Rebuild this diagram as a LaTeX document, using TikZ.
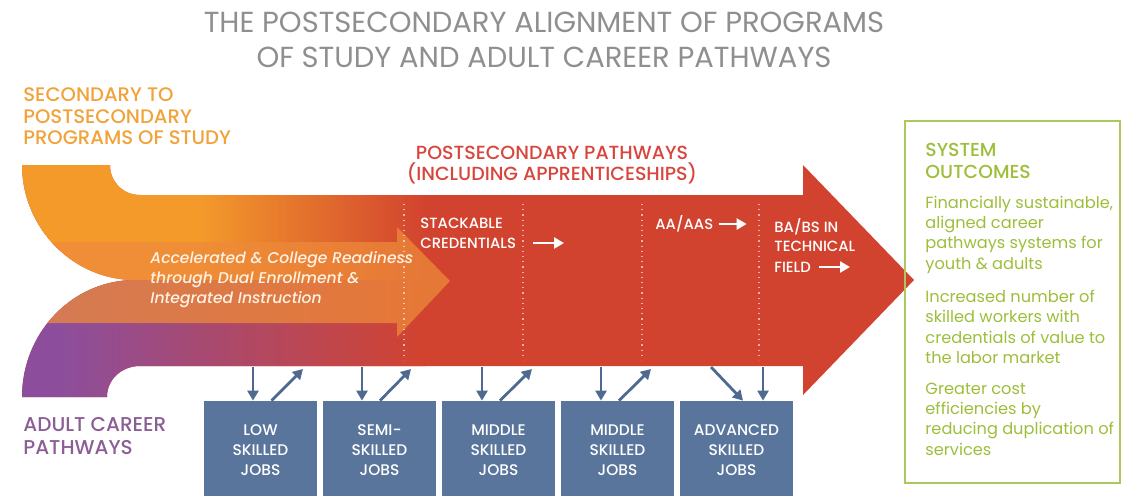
\documentclass[tikz,border=0pt]{standalone}
\usepackage{fontspec}
\setmainfont{Poppins}[BoldFont={Poppins Medium},BoldItalicFont={Poppins Medium Italic}]
\usepackage{tikz}
\usetikzlibrary{arrows.meta}
\tikzset{baseline=(current bounding box.center), >/.tip={Triangle[length=5pt,width=5.5pt]}}

\definecolor{titlegray}{HTML}{8F8F8F}
\definecolor{bandorange}{HTML}{F39A2B}
\definecolor{bandred}{HTML}{D2432F}
\definecolor{bandpurple}{HTML}{8C4E9C}
\definecolor{accelorange}{HTML}{EE8A3A}
\definecolor{laborange}{HTML}{F2A23A}
\definecolor{labred}{HTML}{D8453C}
\definecolor{labpurple}{HTML}{8B5E96}
\definecolor{jobblue}{HTML}{59759B}
\definecolor{linkblue}{HTML}{4E6A91}
\definecolor{outgreen}{HTML}{9DBE3A}
\definecolor{outline}{HTML}{AAC85E}

\begin{document}
\begin{tikzpicture}[x=0.5pt,y=-0.5pt,
  heading/.style={text=titlegray, font=\fontsize{14.5}{17.2}\selectfont, align=center},
  sidelab/.style={anchor=west, inner sep=0pt, align=left, font=\bfseries\fontsize{9.8}{10.75}\selectfont},
  bandtext/.style={anchor=west, inner sep=0pt, align=left, text=white, font=\bfseries\fontsize{7.4}{10}\selectfont},
  jobbox/.style={fill=jobblue, text=white, minimum width=56.5pt, minimum height=49pt, inner sep=0pt, align=center, font=\bfseries\fontsize{7.7}{10}\selectfont},
  link/.style={->, draw=linkblue, line width=1.4pt},
  wlink/.style={->, draw=white, line width=1.2pt},
  divider/.style={draw=white, draw opacity=0.6, line width=0.6pt, dotted},
  outtext/.style={anchor=west, inner sep=0pt, align=left, text=outgreen, font=\fontsize{8.1}{10.15}\selectfont}]
\useasboundingbox (0,0) rectangle (1122,495);

% the two streams joining into the big arrow
\begin{scope}
\clip (22,397) .. controls (22,332) and (73,280) .. (135,280)
      .. controls (73,280) and (22,228) .. (22,165) -- (110,165)
      .. controls (110,182) and (123,195) .. (140,195) -- (803,195) -- (803,165)
      -- (914,280) -- (803,395) -- (803,366) -- (140,366)
      .. controls (122,366) and (107,379) .. (107,397) -- cycle;
\fill[bandred] (0,150) rectangle (920,400);
\fill[bandorange] (0,150) rectangle (200,280);
\shade[left color=bandorange, right color=bandred] (200,150) rectangle (425,280);
\fill[bandpurple] (0,280) rectangle (60,400);
\shade[left color=bandpurple, right color=bandred] (60,280) rectangle (425,400);
\fill[accelorange, fill opacity=0.75] (0,242) -- (397,242) -- (397,227) -- (450,281)
      -- (397,337) -- (397,323) -- (0,323) -- cycle;
\end{scope}

\draw[divider] (404,204) -- (404,360);
\draw[divider] (523,204) -- (523,360);
\draw[divider] (642,204) -- (642,360);
\draw[divider] (759,204) -- (759,360);

% labels
\node[heading] (title) at (544,40) {THE POSTSECONDARY ALIGNMENT OF PROGRAMS\\OF STUDY AND ADULT CAREER PATHWAYS};
\node[sidelab, text=laborange] (secondary) at (23,116.5) {SECONDARY TO\\POSTSECONDARY\\PROGRAMS OF STUDY};
\node[sidelab, text=labpurple, font=\bfseries\fontsize{10}{11.5}\selectfont] (adult) at (23,436.5) {ADULT CAREER\\PATHWAYS};
\node[sidelab, text=labred, anchor=center, align=center, font=\bfseries\fontsize{9.5}{10.5}\selectfont] (postsec) at (552,165.5) {POSTSECONDARY PATHWAYS\\(INCLUDING APPRENTICESHIPS)};
\node[bandtext, text=white!90!orange, font=\bfseries\itshape\fontsize{7.8}{10}\selectfont] (accel) at (150,280) {Accelerated \& College Readiness\\through Dual Enrollment \&\\Integrated Instruction};

\node[bandtext] (stack) at (420,233.5) {STACKABLE\\CREDENTIALS};
\node[bandtext] (aa)    at (655,224)   {AA/AAS};
\node[bandtext] (ba)    at (774,245)   {BA/BS IN\\TECHNICAL\\FIELD};
\coordinate (credarrow)  at (533,243);
\coordinate (fieldarrow) at (819,267);
\draw[wlink] (credarrow) -- ++(31,0);
\draw[wlink] ([xshift=2.5pt]aa.east) -- ++(28,0);
\draw[wlink] (fieldarrow) -- ++(31,0);

% jobs under the arrow
\node[jobbox] (low)  at (260.5,450) {LOW\\SKILLED\\JOBS};
\node[jobbox] (semi) at (379.5,450) {SEMI-\\SKILLED\\JOBS};
\node[jobbox] (midA) at (498.5,450) {MIDDLE\\SKILLED\\JOBS};
\node[jobbox] (midB) at (617.5,450) {MIDDLE\\SKILLED\\JOBS};
\node[jobbox] (adv)  at (736.5,450) {ADVANCED\\SKILLED\\JOBS};

\coordinate (in1) at (253,367);  \coordinate (out1) at (303,369);
\coordinate (in2) at (362,367);  \coordinate (out2) at (411,369);
\coordinate (in3) at (482,367);  \coordinate (out3) at (532,369);
\coordinate (in4) at (601,367);  \coordinate (out4) at (651,369);
\coordinate (in5) at (711,367);  \coordinate (in6)  at (763,367);

\draw[link] (in1) -- (in1 |- low.north);
\draw[link] ([xshift=5.5pt]low.north) -- (out1);
\draw[link] (in2) -- (in2 |- semi.north);
\draw[link] ([xshift=0.25pt]semi.north) -- (out2);
\draw[link] (in3) -- (in3 |- midA.north);
\draw[link] ([xshift=0.75pt]midA.north) -- (out3);
\draw[link] (in4) -- (in4 |- midB.north);
\draw[link] ([xshift=0.75pt]midB.north) -- (out4);
\draw[link] (in5) -- ([xshift=3.25pt]adv.north);
\draw[link] (in6) -- (in6 |- adv.north);

% outcomes
\node[draw=outline, line width=1pt, minimum width=107.5pt, minimum height=181pt] (outcomes) at (1012.5,302) {};
\node[outtext, font=\bfseries\fontsize{9.4}{11}\selectfont] (system) at (925,161) {SYSTEM\\OUTCOMES};
\node[outtext] (out1text) at (925,234.5) {Financially sustainable,\\aligned career\\pathways systems for\\youth \& adults};
\node[outtext] (out2text) at (925,327)   {Increased number of\\skilled workers with\\credentials of value to\\the labor market};
\node[outtext] (out3text) at (925,419)   {Greater cost\\efficiencies by\\reducing duplication of\\services};
\end{tikzpicture}
\end{document}
